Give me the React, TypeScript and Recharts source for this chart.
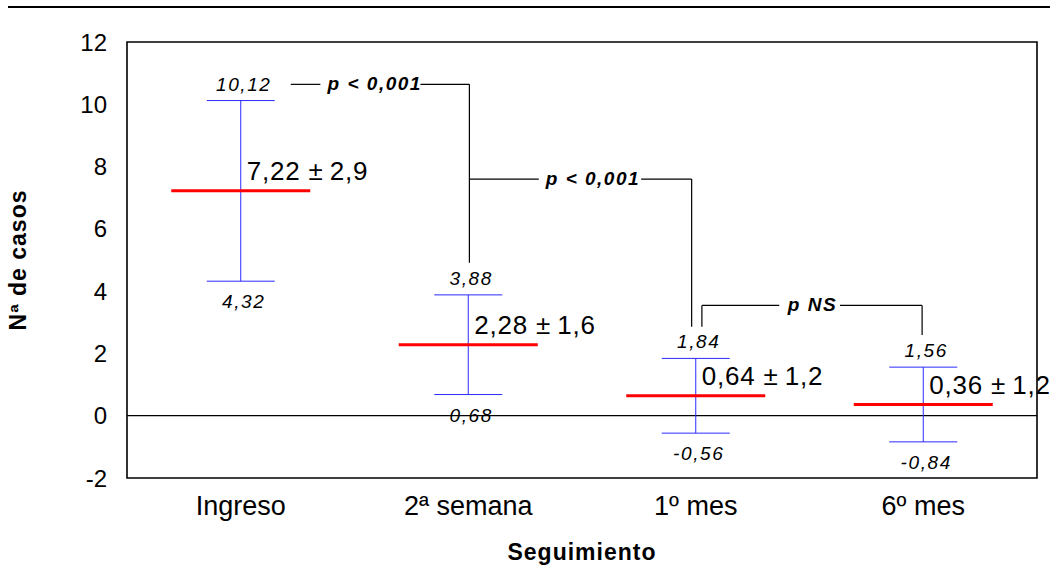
import { ScatterChart, Scatter, XAxis, YAxis, ErrorBar, ReferenceLine, ReferenceArea, ReferenceDot } from "recharts"

const categories = ["Ingreso", "2ª semana", "1º mes", "6º mes"]
const positions = [0.5, 1.5, 2.5, 3.5]
const means = [7.22, 2.28, 0.64, 0.36]
const sds = [2.9, 1.6, 1.2, 1.2]
const upper = [10.12, 3.88, 1.84, 1.56]
const lower = [4.32, 0.68, -0.56, -0.84]
const yTicks = [-2, 0, 2, 4, 6, 8, 10, 12]

// comparison brackets, in axis units (x: category slots, y: casos)
const bracketLines = [
  [[0.72, 10.64], [0.85, 10.64]],
  [[1.29, 10.64], [1.505, 10.64]],
  [[1.505, 10.64], [1.505, 4.91]],
  [[1.505, 7.6], [1.81, 7.6]],
  [[2.26, 7.6], [2.482, 7.6]],
  [[2.482, 7.6], [2.482, 2.86]],
  [[2.527, 2.86], [2.527, 3.54]],
  [[2.527, 3.54], [2.867, 3.54]],
  [[3.134, 3.54], [3.495, 3.54]],
  [[3.495, 3.54], [3.495, 2.59]],
]
const pTexts = ["p < 0,001", "p < 0,001", "p NS"]
const pX = [1.089, 2.048, 3.013]
const pY = [10.64, 7.6, 3.54]

const font = "'Liberation Sans', Arial, sans-serif"

const fmt = (v: number, d: number) => v.toFixed(d).replace(".", ",")

const meanData = positions.map((x, i) => ({ x, y: means[i], sd: sds[i] }))
const upperData = positions.map((x, i) => ({ x, y: upper[i] }))
const lowerData = positions.map((x, i) => ({ x, y: lower[i] }))

const MeanMark = (props: any) => {
  const { cx, cy, payload } = props
  return (
    <g>
      <line x1={cx - 69.5} x2={cx + 69.5} y1={cy} y2={cy} stroke="#ff0000" strokeWidth={3} />
      <text x={cx + 6} y={cy - 11} fontSize={26} letterSpacing={0.8} fill="#000" fontFamily={font}>
        {fmt(payload.y, 2) + " ±\u2009" + fmt(payload.sd, 1)}
      </text>
    </g>
  )
}

const UpperMark = (props: any) => {
  const { cx, cy, payload } = props
  return (
    <text x={cx + 3} y={cy - 10} textAnchor="middle" fontSize={19} letterSpacing={1.6} fontStyle="italic" fill="#000" fontFamily={font}>
      {fmt(payload.y, 2)}
    </text>
  )
}

const LowerMark = (props: any) => {
  const { cx, cy, payload } = props
  return (
    <text x={cx + 3} y={cy + 27} textAnchor="middle" fontSize={19} letterSpacing={1.6} fontStyle="italic" fill="#000" fontFamily={font}>
      {fmt(payload.y, 2)}
    </text>
  )
}

const YTitle = (props: any) => {
  const { viewBox } = props
  const cy = viewBox.y + viewBox.height / 2
  return (
    <text x={0} y={0} transform={`translate(${viewBox.x + 26},${cy}) rotate(-90)`} textAnchor="middle" fontSize={23} fontWeight="bold" letterSpacing={1} fill="#000" fontFamily={font}>
      Nª de casos
    </text>
  )
}

const XTitle = (props: any) => {
  const { viewBox } = props
  return (
    <text x={viewBox.x + viewBox.width / 2} y={560} textAnchor="middle" fontSize={23} fontWeight="bold" letterSpacing={1} fill="#000" fontFamily={font}>
      Seguimiento
    </text>
  )
}

function App() {
  return (
    <div style={{ position: "absolute", left: 0, top: 0, width: 1050, height: 568, background: "#fff" }}>
      <div style={{ position: "absolute", left: 8, top: 6, width: 1042, height: 2, background: "#000" }} />
      <ScatterChart width={1050} height={568} margin={{ top: 42, right: 13, left: 0, bottom: 0 }}>
        <XAxis
          type="number"
          dataKey="x"
          domain={[0, 4]}
          ticks={positions}
          interval={0}
          tickFormatter={(v: number) => categories[positions.indexOf(v)]}
          tickLine={false}
          axisLine={false}
          tickSize={0}
          tickMargin={18}
          height={90}
          tick={{ fontSize: 27, fill: "#000", fontFamily: font }}
          label={<XTitle />}
        />
        <YAxis
          type="number"
          dataKey="y"
          domain={[-2, 12]}
          ticks={yTicks}
          interval={0}
          tickLine={false}
          axisLine={false}
          tickSize={0}
          tickMargin={20}
          width={127}
          tick={{ fontSize: 24, fill: "#000", fontFamily: font }}
          label={<YTitle />}
        />
        <ReferenceArea x1={0} x2={4} y1={-2} y2={12} fill="none" stroke="#000" strokeWidth={1.6} />
        <ReferenceLine y={0} stroke="#000" strokeWidth={1.3} />
        {bracketLines.map((seg, i) => (
          <ReferenceLine
            key={"b" + i}
            segment={[{ x: seg[0][0], y: seg[0][1] }, { x: seg[1][0], y: seg[1][1] }]}
            stroke="#000"
            strokeWidth={1.2}
          />
        ))}
        {pTexts.map((t, i) => (
          <ReferenceDot
            key={"p" + i}
            x={pX[i]}
            y={pY[i]}
            r={0}
            shape={(p: any) => (
              <text x={p.cx} y={p.cy + 6} textAnchor="middle" fontSize={19} fontWeight="bold" fontStyle="italic" letterSpacing={1.5} fill="#000" fontFamily={font}>
                {t}
              </text>
            )}
          />
        ))}
        <Scatter data={meanData} shape={<MeanMark />} isAnimationActive={false}>
          <ErrorBar dataKey="sd" width={34} stroke="#2a2aff" strokeWidth={1} direction="y" />
        </Scatter>
        <Scatter data={upperData} shape={<UpperMark />} isAnimationActive={false} />
        <Scatter data={lowerData} shape={<LowerMark />} isAnimationActive={false} />
      </ScatterChart>
    </div>
  )
}

export default App
